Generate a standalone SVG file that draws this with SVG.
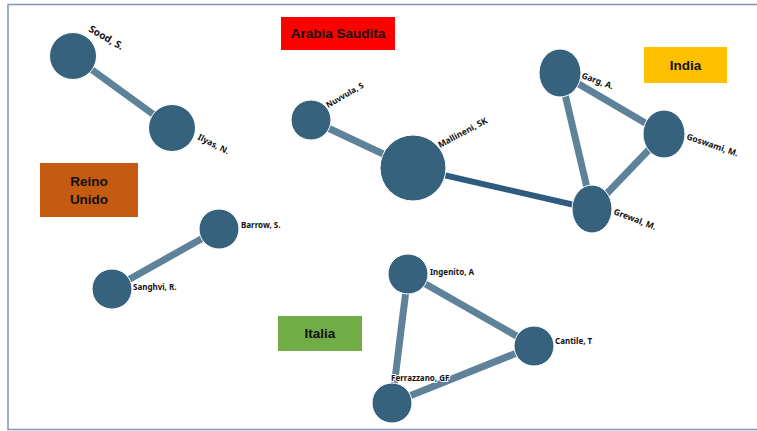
<svg xmlns="http://www.w3.org/2000/svg" width="757" height="431" viewBox="0 0 757 431">
<style>
.frame{fill:#fff;stroke:#8096C0;stroke-width:1.5}
.e{stroke:#5E8299;stroke-width:7;fill:none}
.ed{stroke:#2E5B7E;stroke-width:6;fill:none}
.n{fill:#36627E;stroke:#fff;stroke-width:1}
.lb{font-family:"Noto Sans","DejaVu Sans",sans-serif;font-size:8.5px;font-weight:bold;fill:#111;stroke:#fff;stroke-width:2;paint-order:stroke}
.sm{font-size:8px}
.bg{font-size:10px}
.bx{font-family:"Liberation Sans","Noto Sans",sans-serif;font-size:13.5px;font-weight:bold;fill:#111;text-anchor:middle}
</style>
<rect class="frame" x="8" y="4.5" width="760" height="425"/>
<g id="country-labels">
<g id="arabia"><rect x="281" y="17" width="114" height="33" fill="#FF0000"/><text class="bx" x="338" y="38">Arabia Saudita</text></g>
<g id="india"><rect x="644" y="47" width="83" height="36" fill="#FFC000"/><text class="bx" x="685.5" y="70">India</text></g>
<g id="reino"><rect x="40" y="163" width="98" height="54" fill="#C55A11"/><text class="bx" x="89" y="186">Reino</text><text class="bx" x="89" y="204">Unido</text></g>
<g id="italia"><rect x="278" y="316" width="84" height="35" fill="#70AD47"/><text class="bx" x="320" y="338">Italia</text></g>
</g>
<g id="connectors">
<line class="e" x1="73" y1="56" x2="172" y2="128"/>
<line class="e" x1="311" y1="120" x2="413" y2="168"/>
<line class="ed" x1="413" y1="168" x2="592" y2="209"/>
<line class="e" x1="560" y1="73" x2="664" y2="134"/>
<line class="e" x1="560" y1="73" x2="592" y2="209"/>
<line class="e" x1="664" y1="134" x2="592" y2="209"/>
<line class="e" x1="219" y1="229" x2="112" y2="289"/>
<line class="e" x1="408" y1="274" x2="534" y2="346"/>
<line class="e" x1="408" y1="274" x2="392" y2="403"/>
<line class="e" x1="534" y1="346" x2="392" y2="403"/>
</g>
<g id="sood"><circle class="n" cx="73" cy="56" r="23.5"/><text class="lb bg" transform="translate(88,31) rotate(30)">Sood, S.</text></g>
<g id="ilyas"><circle class="n" cx="172" cy="128" r="23.5"/><text class="lb" transform="translate(197,139) rotate(27)">Ilyas, N.</text></g>
<g id="nuvvula"><circle class="n" cx="311" cy="120" r="20"/><text class="lb sm" transform="translate(328,108) rotate(-30)">Nuvvula, S</text></g>
<g id="mallineni"><circle class="n" cx="413" cy="168" r="33"/><text class="lb" transform="translate(440,148) rotate(-28)">Mallineni, SK</text></g>
<g id="garg"><ellipse class="n" cx="560" cy="73" rx="21" ry="24"/><text class="lb" transform="translate(581,78) rotate(20)">Garg, A.</text></g>
<g id="goswami"><ellipse class="n" cx="664" cy="134" rx="21" ry="24"/><text class="lb" transform="translate(686,139) rotate(19)">Goswami, M.</text></g>
<g id="grewal"><ellipse class="n" cx="592" cy="209" rx="20" ry="24"/><text class="lb" transform="translate(613,214) rotate(21)">Grewal, M.</text></g>
<g id="barrow"><circle class="n" cx="219" cy="229" r="20"/><text class="lb sm" x="241" y="228">Barrow, S.</text></g>
<g id="sanghvi"><circle class="n" cx="112" cy="289" r="20"/><text class="lb sm" x="133" y="290">Sanghvi, R.</text></g>
<g id="ingenito"><circle class="n" cx="408" cy="274" r="20"/><text class="lb sm" x="430" y="275">Ingenito, A</text></g>
<g id="cantile"><circle class="n" cx="534" cy="346" r="20"/><text class="lb sm" x="555" y="344">Cantile, T</text></g>
<g id="ferrazzano"><circle class="n" cx="392" cy="403" r="20"/><text class="lb sm" x="391" y="381">Ferrazzano, GF</text></g>
</svg>
